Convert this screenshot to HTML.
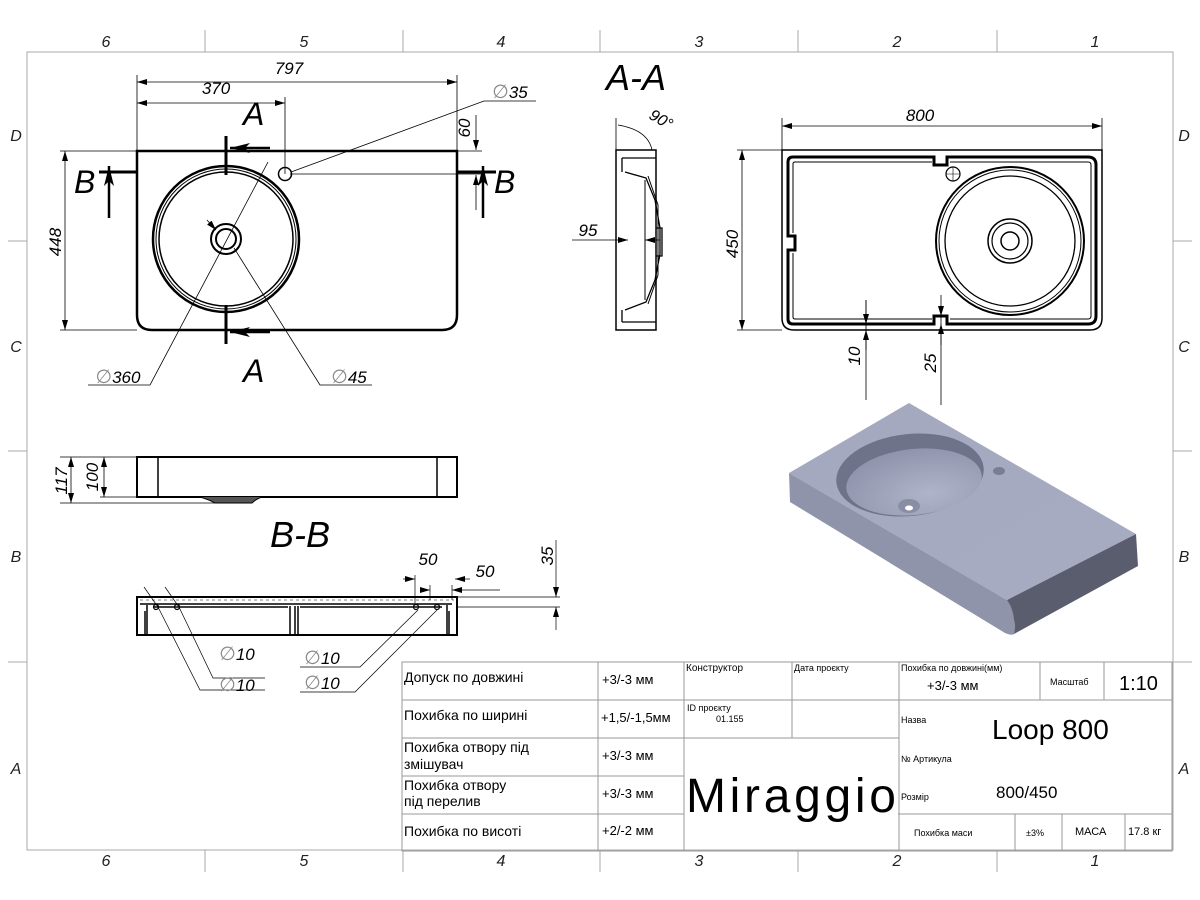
<!DOCTYPE html>
<html><head><meta charset="utf-8"><style>
html,body{margin:0;padding:0;background:#fff}
svg{display:block}
text{font-family:"Liberation Sans",sans-serif}
.it{font-style:italic}
.t{font-family:"DejaVu Sans","Liberation Sans",sans-serif;font-size:13px}
.d{font-style:normal;fill:#888;font-size:19px;font-family:"DejaVu Sans",sans-serif}
</style></head><body>
<svg width="1200" height="900" viewBox="0 0 1200 900" xmlns="http://www.w3.org/2000/svg">
<defs>
<marker id="ar" viewBox="0 0 10 6" refX="10" refY="3" markerWidth="10" markerHeight="6" orient="auto-start-reverse" markerUnits="userSpaceOnUse"><path d="M0,0L10,3L0,6z" fill="#000"/></marker>
<marker id="ab" viewBox="0 0 20 10" refX="20" refY="5" markerWidth="20" markerHeight="10" orient="auto" markerUnits="userSpaceOnUse"><path d="M0,0L20,5L0,10L5,5z" fill="#000"/></marker>
<linearGradient id="gt" x1="0" y1="0" x2="1" y2="1"><stop offset="0" stop-color="#a4a8c0"/><stop offset="1" stop-color="#a8acc2"/></linearGradient>
<radialGradient id="gb" cx="0.6" cy="0.7" r="0.7"><stop offset="0" stop-color="#b0b4ca"/><stop offset="1" stop-color="#9094ac"/></radialGradient>
</defs>
<g stroke="#aaa" stroke-width="1" fill="none">
<rect x="27" y="52" width="1146" height="798"/>
<path d="M205,30V52M403,30V52M600,30V52M798,30V52M997,30V52M205,850V872M403,850V872M600,850V872M798,850V872M997,850V872M8,241H27M8,451H27M8,662H27M1173,241H1192M1173,451H1192M1173,662H1192"/>
</g>
<g class="it" font-size="16" text-anchor="middle" fill="#222">
<text x="106" y="47">6</text><text x="304" y="47">5</text><text x="501" y="47">4</text><text x="699" y="47">3</text><text x="897" y="47">2</text><text x="1095" y="47">1</text>
<text x="106" y="866">6</text><text x="304" y="866">5</text><text x="501" y="866">4</text><text x="699" y="866">3</text><text x="897" y="866">2</text><text x="1095" y="866">1</text>
<text x="16" y="141">D</text><text x="16" y="352">C</text><text x="16" y="562">B</text><text x="16" y="774">A</text>
<text x="1184" y="141">D</text><text x="1184" y="352">C</text><text x="1184" y="562">B</text><text x="1184" y="774">A</text>
</g>

<!-- TOP VIEW -->
<path d="M137,151H457V315Q457,330 442,330H152Q137,330 137,315Z" fill="none" stroke="#000" stroke-width="2.5"/>
<circle cx="226" cy="239" r="73" fill="none" stroke="#000" stroke-width="2.5"/>
<circle cx="226" cy="239" r="70" fill="none" stroke="#000" stroke-width="1"/>
<circle cx="226" cy="239" r="67" fill="none" stroke="#000" stroke-width="1.5"/>
<circle cx="226" cy="239" r="15" fill="none" stroke="#000" stroke-width="2"/>
<circle cx="226" cy="239" r="10" fill="none" stroke="#000" stroke-width="2"/>
<circle cx="285" cy="174" r="6.5" fill="none" stroke="#000" stroke-width="1.5"/>
<g stroke="#000" stroke-width="3" fill="none">
<path d="M226,136V175M226,305V344M99,172H137M457,172H496"/>
</g>
<g stroke="#000" stroke-width="2.5">
<line x1="270" y1="148" x2="230" y2="148" marker-end="url(#ab)"/>
<line x1="270" y1="332" x2="230" y2="332" marker-end="url(#ab)"/>
<line x1="109" y1="218" x2="109" y2="166" marker-end="url(#ab)"/>
<line x1="483" y1="218" x2="483" y2="166" marker-end="url(#ab)"/>
</g>
<g class="it" font-size="32" fill="#000">
<text x="243" y="125">A</text><text x="243" y="382">A</text>
<text x="74" y="193">B</text><text x="494" y="193">B</text>
</g>
<g stroke="#000" stroke-width="0.8" fill="none">
<path d="M137,75V151M457,75V151M285,97V174M60,151H137M60,330H137M457,151H482M290,174H481"/>
<line x1="137" y1="82" x2="457" y2="82" marker-start="url(#ar)" marker-end="url(#ar)"/>
<line x1="137" y1="103" x2="285" y2="103" marker-start="url(#ar)" marker-end="url(#ar)"/>
<line x1="65" y1="151" x2="65" y2="330" marker-start="url(#ar)" marker-end="url(#ar)"/>
<line x1="476" y1="115" x2="476" y2="150" marker-end="url(#ar)"/>
<line x1="476" y1="210" x2="476" y2="175" marker-end="url(#ar)"/>
<path d="M536,101H484L291,172"/>
<path d="M88,385H150L268,162"/>
<path d="M372,385H320L234,248"/>
<line x1="207" y1="220" x2="216" y2="230" marker-end="url(#ar)"/>
</g>
<g class="it" font-size="17" fill="#000" text-anchor="middle">
<text x="289" y="74">797</text><text x="216" y="94">370</text>
<text x="510" y="98"><tspan class="d">∅</tspan>35</text>
<text transform="translate(61,242) rotate(-90)">448</text>
<text transform="translate(470,128) rotate(-90)">60</text>
<text x="118" y="383"><tspan class="d">∅</tspan>360</text>
<text x="349" y="383"><tspan class="d">∅</tspan>45</text>
</g>

<!-- A-A -->
<text x="636" y="90" class="it" font-size="36" text-anchor="middle">A-A</text>
<g stroke="#000" fill="none">
<path d="M616,150H656V330H616Z" stroke-width="1.5"/>
<path d="M622,158H656M622,158V172M622,322V310M622,322H656M625,172L646,178L655,200L660,228V254L655,280L646,302L625,310" stroke-width="1.3"/>
<path d="M645,180V300M648,176L658,205V275L648,304" stroke-width="1"/>
<path d="M656,228H662V256H656" stroke-width="1.3"/>
<path d="M616,118V150M618,125Q648,130 652,150" stroke-width="0.8"/>
<line x1="572" y1="240" x2="628" y2="240" stroke-width="0.8" marker-end="url(#ar)"/>
<line x1="660" y1="240" x2="645" y2="240" stroke-width="0.8" marker-end="url(#ar)"/>
</g>
<text transform="translate(648,118) rotate(30)" class="it" font-size="16">90°</text>
<text x="588" y="236" class="it" font-size="17" text-anchor="middle">95</text>

<!-- RIGHT TOP VIEW -->
<path d="M782,150H1102V318Q1102,330 1090,330H794Q782,330 782,318Z" fill="none" stroke="#000" stroke-width="1.5"/>
<path d="M793,157H934V165H947V157H1088Q1096,157 1096,165V316Q1096,324 1088,324H947V316H934V324H793Q788,324 788,319V250H795V236H788V162Q788,157 793,157Z" fill="none" stroke="#000" stroke-width="3"/>
<path d="M795,162H932M950,162H1088Q1091,162 1091,165V316Q1091,319 1088,319H950M932,319H795Q793,319 793,317V253M793,233V164Q793,162 795,162" fill="none" stroke="#000" stroke-width="1"/>
<circle cx="1010" cy="241" r="74" fill="none" stroke="#000" stroke-width="2"/>
<circle cx="1010" cy="241" r="71" fill="none" stroke="#000" stroke-width="1"/>
<circle cx="1010" cy="241" r="65" fill="none" stroke="#000" stroke-width="1.3"/>
<circle cx="1010" cy="241" r="22" fill="none" stroke="#000" stroke-width="1.5"/>
<circle cx="1010" cy="241" r="18" fill="none" stroke="#000" stroke-width="1.2"/>
<circle cx="1010" cy="241" r="9" fill="none" stroke="#000" stroke-width="1.5"/>
<circle cx="953" cy="174" r="7" fill="none" stroke="#000" stroke-width="1.2"/>
<path d="M946,174H960M953,167V181" stroke="#000" stroke-width="0.6"/>
<g stroke="#000" stroke-width="0.8" fill="none">
<path d="M782,118V150M1102,118V150M737,150H782M737,330H782M866,300V400M941,315V405"/>
<line x1="782" y1="126" x2="1102" y2="126" marker-start="url(#ar)" marker-end="url(#ar)"/>
<line x1="742" y1="150" x2="742" y2="330" marker-start="url(#ar)" marker-end="url(#ar)"/>
<line x1="866" y1="300" x2="866" y2="324" marker-end="url(#ar)"/>
<line x1="866" y1="350" x2="866" y2="330" marker-end="url(#ar)"/>
<line x1="941" y1="295" x2="941" y2="316" marker-end="url(#ar)"/>
<line x1="941" y1="345" x2="941" y2="324" marker-end="url(#ar)"/>
</g>
<g class="it" font-size="17" text-anchor="middle">
<text x="920" y="121">800</text>
<text transform="translate(738,244) rotate(-90)">450</text>
<text transform="translate(860,356) rotate(-90)">10</text>
<text transform="translate(936,363) rotate(-90)">25</text>
</g>

<!-- FRONT VIEW -->
<path d="M137,457H457V497H137Z" fill="none" stroke="#000" stroke-width="2"/>
<path d="M158,457V497M437,457V497" stroke="#000" stroke-width="1.5"/>
<path d="M200,497Q210,500 215,503H252Q256,499 262,497" fill="#555" stroke="#000"/>
<g stroke="#000" stroke-width="0.8" fill="none">
<path d="M60,457H137M60,503H215M100,497H137"/>
<line x1="71" y1="457" x2="71" y2="503" marker-start="url(#ar)" marker-end="url(#ar)"/>
<line x1="104" y1="457" x2="104" y2="497" marker-start="url(#ar)" marker-end="url(#ar)"/>
</g>
<g class="it" font-size="17" text-anchor="middle">
<text transform="translate(67,481) rotate(-90)">117</text>
<text transform="translate(98,477) rotate(-90)">100</text>
</g>

<!-- B-B -->
<text x="300" y="547" class="it" font-size="36" text-anchor="middle">B-B</text>
<g stroke="#000" fill="none">
<path d="M137,597H457V635H137Z" stroke-width="2"/>
<path d="M140,604H452M145,611V634M449,611V634M147,605V634M447,605V634M290,606V634M295,606V634M298,606V634M154,607H288M300,607H442" stroke-width="1.5"/>
<path d="M140,600H454" stroke-width="0.5" stroke-dasharray="3,3"/>
<circle cx="156" cy="607" r="2.5" stroke-width="1.2"/><circle cx="177" cy="607" r="2.5" stroke-width="1.2"/>
<circle cx="416" cy="607" r="2.5" stroke-width="1.2"/><circle cx="437" cy="607" r="2.5" stroke-width="1.2"/>
<g stroke-width="0.7">
<path d="M144,587L158,607L200,690H265M165,587L179,607L213,678H265M300,667H360L418,610M300,692H355L437,610"/>
<path d="M415,575V603M430,585V600M452,585V600M457,597H560M457,607H560"/>
<line x1="403" y1="579" x2="415" y2="579" marker-end="url(#ar)"/>
<line x1="470" y1="579" x2="455" y2="579" marker-end="url(#ar)"/>
<line x1="420" y1="590" x2="430" y2="590" marker-end="url(#ar)"/>
<line x1="500" y1="590" x2="452" y2="590" marker-end="url(#ar)"/>
<line x1="556" y1="540" x2="556" y2="597" marker-end="url(#ar)"/>
<line x1="556" y1="630" x2="556" y2="607" marker-end="url(#ar)"/>
</g>
</g>
<g class="it" font-size="17" text-anchor="middle">
<text x="428" y="565">50</text><text x="485" y="577">50</text>
<text transform="translate(553,556) rotate(-90)">35</text>
<text x="237" y="660"><tspan class="d">∅</tspan>10</text><text x="237" y="691"><tspan class="d">∅</tspan>10</text>
<text x="322" y="664"><tspan class="d">∅</tspan>10</text><text x="322" y="689"><tspan class="d">∅</tspan>10</text>
</g>

<!-- 3D -->
<path d="M789,473L909,403L1136,534L1007,600Z" fill="url(#gt)"/>
<path d="M789,473L1007,600Q1012,604 1014,610V634Q1012,636 1005,633L790,502Z" fill="#9094aa"/>
<path d="M1007,600L1136,534L1138,566L1014,634Q1016,612 1007,600Z" fill="#5a5d6e"/>
<ellipse cx="910" cy="475" rx="74" ry="41" transform="rotate(-6 910 475)" fill="#6f7389"/>
<ellipse cx="914" cy="482" rx="68" ry="33" transform="rotate(-6 914 482)" fill="url(#gb)"/>
<ellipse cx="909" cy="506" rx="11" ry="7" fill="#8a8ea4"/>
<ellipse cx="909" cy="508" rx="4" ry="2.5" fill="#fff"/>
<ellipse cx="999" cy="471" rx="6" ry="4" fill="#7a7e94"/>

<!-- TABLE -->
<g stroke="#999" stroke-width="1" fill="none">
<rect x="402" y="662" width="770" height="189"/>
<path d="M402,700H684M402,738H899M402,776H684M402,814H684M898,700H1172M898,814H1172M684,700H899"/>
<path d="M598,662V851M684,662V851M792,662V738M899,662V851M1040,662V700M1104,662V700M1015,814V851M1062,814V851M1125,814V851"/>
</g>
<g class="t" fill="#000">
<text x="404" y="682" font-size="14">Допуск по довжині</text>
<text x="404" y="720" font-size="14">Похибка по ширині</text>
<text x="404" y="752" font-size="14">Похибка отвору під</text>
<text x="404" y="769" font-size="14">змішувач</text>
<text x="404" y="790" font-size="14">Похибка отвору</text>
<text x="404" y="806" font-size="14">під перелив</text>
<text x="404" y="836" font-size="14">Похибка по висоті</text>
<text x="602" y="684" font-size="13">+3/-3 мм</text>
<text x="601" y="722" font-size="13">+1,5/-1,5мм</text>
<text x="602" y="760" font-size="13">+3/-3 мм</text>
<text x="602" y="798" font-size="13">+3/-3 мм</text>
<text x="602" y="835" font-size="13">+2/-2 мм</text>
<text x="686" y="671" font-size="10">Конструктор</text>
<text x="794" y="671" font-size="9">Дата проєкту</text>
<text x="687" y="711" font-size="9">ID проєкту</text>
<text x="716" y="722" font-size="9">01.155</text>
<text x="686" y="812" font-size="48" textLength="210">Miraggio</text>
<text x="901" y="671" font-size="9">Похибка по довжині(мм)</text>
<text x="927" y="690" font-size="13">+3/-3 мм</text>
<text x="1050" y="685" font-size="9">Масштаб</text>
<text x="1119" y="690" font-size="20">1:10</text>
<text x="901" y="723" font-size="9">Назва</text>
<text x="992" y="739" font-size="28">Loop 800</text>
<text x="901" y="762" font-size="9">№ Артикула</text>
<text x="996" y="798" font-size="17">800/450</text>
<text x="901" y="800" font-size="9">Розмір</text>
<text x="914" y="836" font-size="9">Похибка маси</text>
<text x="1026" y="836" font-size="9">±3%</text>
<text x="1075" y="835" font-size="11">МАСА</text>
<text x="1128" y="835" font-size="11">17.8 кг</text>
</g>
</svg>
</body></html>
